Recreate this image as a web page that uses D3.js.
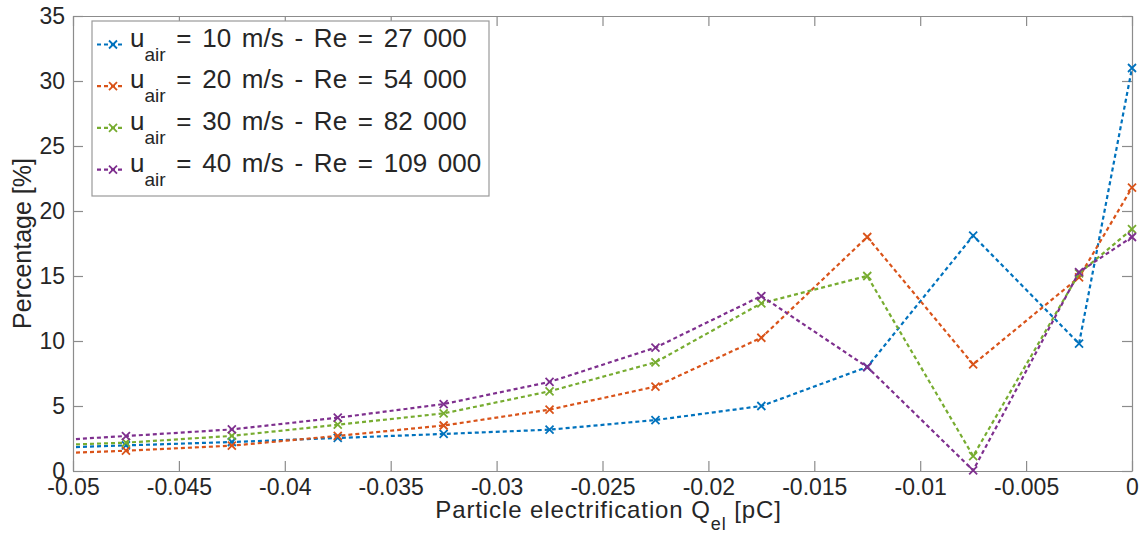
<!DOCTYPE html>
<html>
<head>
<meta charset="utf-8">
<script src="https://d3js.org/d3.v7.min.js"></script>
<style>
	body { margin: 0; background: #fff; }
	svg text { font-family: "Liberation Sans", Arial, Helvetica, sans-serif; fill: #262626; }
</style>
</head>
<body>
<svg id="chart" width="1141" height="537"></svg>
<script>
// charge bins (pC), first bin lies left of the visible range
var charge = [-0.0525, -0.0475, -0.0425, -0.0375, -0.0325, -0.0275, -0.0225, -0.0175, -0.0125, -0.0075, -0.0025, 0];

// percentage per bin, one array per air speed
var u10 = [1.7, 1.97, 2.23, 2.54, 2.85, 3.18, 3.92, 5.0, 8.0, 18.1, 9.8, 31.0];
var u20 = [1.25, 1.56, 1.95, 2.7, 3.5, 4.72, 6.49, 10.25, 18.0, 8.2, 14.9, 21.8];
var u30 = [1.9, 2.18, 2.7, 3.56, 4.43, 6.13, 8.36, 12.9, 15.0, 1.15, 15.2, 18.6];
var u40 = [2.2, 2.69, 3.2, 4.1, 5.15, 6.85, 9.49, 13.46, 8.0, 0.05, 15.3, 18.0];

var speeds = ["10", "20", "30", "40"];
var reynolds = ["27 000", "54 000", "82 000", "109 000"];
var colors = ["#0072BD", "#D95319", "#77AC30", "#7E2F8E"];

var xTicks = [-0.05, -0.045, -0.04, -0.035, -0.03, -0.025, -0.02, -0.015, -0.01, -0.005, 0];
var xTickLabels = ["-0.05", "-0.045", "-0.04", "-0.035", "-0.03", "-0.025", "-0.02", "-0.015", "-0.01", "-0.005", "0"];
var yTicks = [0, 5, 10, 15, 20, 25, 30, 35];

var series = [u10, u20, u30, u40];

//plot box
var margin = {top: 16, right: 9, bottom: 66, left: 73};
var width = 1141 - margin.left - margin.right;
var height = 537 - margin.top - margin.bottom;

var svg = d3.select("#chart");
var g = svg.append("g").attr("transform", "translate(" + margin.left + "," + margin.top + ")");

var x = d3.scaleLinear().domain([-0.05, 0]).range([0, width]);
var y = d3.scaleLinear().domain([0, 35]).range([height, 0]);

var axisColor = "#8c8c8c";
var tickLen = 10;

//axes (MATLAB style : box with inner ticks on all sides)
function styleAxis(sel) {
	sel.select(".domain").attr("stroke", axisColor).attr("stroke-width", 1.2);
	sel.selectAll(".tick line").attr("stroke", axisColor).attr("stroke-width", 1.2);
	sel.selectAll(".tick text").style("font-size", "23px").attr("fill", "#262626");
}

g.append("g")
	.attr("transform", "translate(0," + height + ")")
	.call(d3.axisBottom(x).tickValues(xTicks)
		.tickFormat(function(d, i) { return xTickLabels[i]; })
		.tickSizeInner(-tickLen).tickSizeOuter(0).tickPadding(8))
	.call(styleAxis);

g.append("g")
	.call(d3.axisTop(x).tickValues(xTicks).tickFormat("").tickSizeInner(-tickLen).tickSizeOuter(0))
	.call(styleAxis);

g.append("g")
	.call(d3.axisLeft(y).tickValues(yTicks).tickFormat(d3.format("d")).tickSizeInner(-tickLen).tickSizeOuter(0).tickPadding(8))
	.call(styleAxis);

g.append("g")
	.attr("transform", "translate(" + width + ",0)")
	.call(d3.axisRight(y).tickValues(yTicks).tickFormat("").tickSizeInner(-tickLen).tickSizeOuter(0))
	.call(styleAxis);

//clip lines to the box, markers stay visible on the edge
g.append("clipPath").attr("id", "plotClip")
	.append("rect").attr("width", width).attr("height", height);

var line = d3.line()
	.x(function(d) { return x(d.x); })
	.y(function(d) { return y(d.y); });

function drawCross(sel, size) {
	sel.append("path")
		.attr("d", "M" + (-size) + "," + (-size) + "L" + size + "," + size + "M" + (-size) + "," + size + "L" + size + "," + (-size));
}

series.forEach(function(vals, k) {
	var pts = charge.map(function(c, i) { return {x: c, y: vals[i]}; });
	g.append("path")
		.datum(pts)
		.attr("clip-path", "url(#plotClip)")
		.attr("fill", "none")
		.attr("stroke", colors[k])
		.attr("stroke-width", 2.2)
		.attr("stroke-dasharray", "4,3")
		.attr("d", line);
	var marks = g.append("g").attr("stroke", colors[k]).attr("stroke-width", 1.8).attr("fill", "none");
	pts.filter(function(p) { return p.x >= -0.05; }).forEach(function(p) {
		marks.append("g")
			.attr("transform", "translate(" + x(p.x) + "," + y(p.y) + ")")
			.call(drawCross, 4);
	});
});

//axis labels
svg.append("text")
	.attr("x", margin.left + width / 2 + 6)
	.attr("y", 518)
	.attr("text-anchor", "middle")
	.style("font-size", "24px")
	.style("letter-spacing", "0.9px")
	.call(function(t) {
		t.append("tspan").text("Particle electrification Q");
		t.append("tspan").attr("dy", 12).style("font-size", "18px").text("el");
		t.append("tspan").attr("dy", -12).text(" [pC]");
	});

svg.append("text")
	.attr("transform", "translate(31," + (margin.top + height / 2) + ") rotate(-90)")
	.attr("text-anchor", "middle")
	.style("font-size", "25px")
	.text("Percentage [%]");

//legend
var legend = svg.append("g").attr("transform", "translate(92,21)");
legend.append("rect")
	.attr("width", 397).attr("height", 175)
	.attr("fill", "#fff").attr("stroke", "#9a9a9a").attr("stroke-width", 1.2);

speeds.forEach(function(s, k) {
	var row = legend.append("g").attr("transform", "translate(0," + (23.5 + k * 41.7) + ")");
	row.append("line")
		.attr("x1", 5).attr("x2", 33)
		.attr("stroke", colors[k]).attr("stroke-width", 2.2).attr("stroke-dasharray", "4,3");
	row.append("g").attr("transform", "translate(21,0)")
		.attr("stroke", colors[k]).attr("stroke-width", 1.8)
		.call(drawCross, 4);
	row.append("text")
		.attr("x", 38).attr("y", 2)
		.style("font-size", "26px")
		.style("word-spacing", "3.5px")
		.call(function(t) {
			t.append("tspan").text("u");
			t.append("tspan").attr("dy", 14).style("font-size", "19px").text("air");
			t.append("tspan").attr("dy", -14).text(" = " + s + " m/s - Re = " + reynolds[k]);
		});
});
</script>
</body>
</html>
